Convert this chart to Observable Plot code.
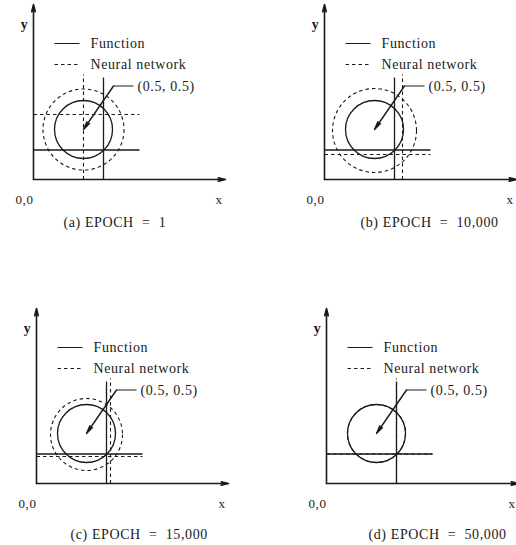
<!DOCTYPE html>
<html><head><meta charset="utf-8">
<script src="https://cdn.jsdelivr.net/npm/d3@7"></script>
<script src="https://cdn.jsdelivr.net/npm/@observablehq/plot@0.6"></script>
<style>
body{margin:0;background:#fff;width:516px;height:545px;overflow:hidden;position:relative;}
.panel{position:absolute;width:258px;}
.panel svg{max-width:none !important;letter-spacing:0.6px;}
</style></head><body>
<div id="root"></div>
<script>
// ---- data (data units: origin = 0,0) ----
const panelLetters = ["a", "b", "c", "d"];
const epochLabels = ["1", "10,000", "15,000", "50,000"];
// Function (solid)
const fnCircleCx = 0.5, fnCircleCy = 0.5, fnCircleR = 0.29;
const fnLineX = 0.70, fnLineY = 0.295;
// Neural network (dashed), one value per panel
const nnCircleCx = [0.50, 0.50, 0.50, 0.50];
const nnCircleCy = [0.50, 0.49, 0.49, 0.50];
const nnCircleR  = [0.405, 0.42, 0.36, 0.29];
const nnLineX    = [0.50, 0.78, 0.74, 0.70];
const nnLineY    = [0.65, 0.25, 0.27, 0.295];
const centerLabel = "(0.5, 0.5)";
const centerPoint = [0.5, 0.5];
const legendLabels = ["Function", "Neural network"];
const axisLabels = ["x", "y", "0,0"];

// ---- layout ----
const W = 258, H = 272;
const layout = [
  {left: -2,  top: -31, capX: 0.30, capY: -0.43},
  {left: 289, top: -31, capX: 0.36, capY: -0.43},
  {left: 1,   top: 273, capX: 0.34, capY: -0.51},
  {left: 291, top: 273, capX: 0.42, capY: -0.51}
];
const ink = "#1a1a1a";
const font = "Liberation Serif, Times New Roman, serif";

function panel(i) {
  const lineTop = 1.02, lineRight = 1.06;
  const solidSegs = [
    {x1: fnLineX, y1: 0, x2: fnLineX, y2: lineTop},
    {x1: 0, y1: fnLineY, x2: lineRight, y2: fnLineY}
  ];
  const dashSegs = [
    {x1: nnLineX[i], y1: 0, x2: nnLineX[i], y2: lineTop + 0.03},
    {x1: 0, y1: nnLineY[i], x2: lineRight, y2: nnLineY[i]}
  ];
  const circles = [
    {cx: fnCircleCx, cy: fnCircleCy, r: fnCircleR, kind: "fn"},
    {cx: nnCircleCx[i], cy: nnCircleCy[i], r: nnCircleR[i], kind: "nn"}
  ];
  const legend = [
    {x1: 0.21, x2: 0.46, y: 1.36, label: legendLabels[0], dash: null},
    {x1: 0.21, x2: 0.46, y: 1.15, label: legendLabels[1], dash: "3.5,3"}
  ];
  const leaderY = 0.935;
  const plot = Plot.plot({
    width: W, height: H,
    margin: 0,
    x: {domain: [-0.35, 2.23], axis: null},
    y: {domain: [-0.62, 2.10], axis: null},
    r: {type: "linear", domain: [0, 1], range: [0, 100]},
    style: {fontFamily: font, background: "white", overflow: "visible"},
    marks: [
      // axes with arrowheads
      Plot.arrow([{x1: 0, y1: 0, x2: 1.92, y2: 0}, {x1: 0, y1: 0, x2: 0, y2: 1.75}],
        {x1: "x1", y1: "y1", x2: "x2", y2: "y2", stroke: ink, strokeWidth: 1.6, headLength: 7, headAngle: 28}),
      // function lines and circle
      Plot.link(solidSegs, {x1: "x1", y1: "y1", x2: "x2", y2: "y2", stroke: ink, strokeWidth: 1.3}),
      Plot.dot(circles.filter(d => d.kind === "fn"), {x: "cx", y: "cy", r: "r", stroke: ink, strokeWidth: 1.3, fill: "none"}),
      // neural network lines and circle
      Plot.link(dashSegs, {x1: "x1", y1: "y1", x2: "x2", y2: "y2", stroke: ink, strokeWidth: 1.1, strokeDasharray: "3.5,3"}),
      Plot.dot(circles.filter(d => d.kind === "nn"), {x: "cx", y: "cy", r: "r", stroke: ink, strokeWidth: 1.1, fill: "none", strokeDasharray: "3.5,3"}),
      // legend
      Plot.link(legend.filter(d => !d.dash), {x1: "x1", x2: "x2", y1: "y", y2: "y", stroke: ink, strokeWidth: 1}),
      Plot.link(legend.filter(d => d.dash), {x1: "x1", x2: "x2", y1: "y", y2: "y", stroke: ink, strokeWidth: 1, strokeDasharray: "3.5,3"}),
      Plot.text(legend, {x: 0.57, y: "y", text: "label", textAnchor: "start", fontSize: 14, fill: ink}),
      // leader to (0.5, 0.5)
      Plot.link([{x1: 1.0, x2: 0.80, y: leaderY}], {x1: "x1", x2: "x2", y1: "y", y2: "y", stroke: ink, strokeWidth: 1}),
      Plot.arrow([{x1: 0.80, y1: leaderY, x2: centerPoint[0], y2: centerPoint[1]}],
        {x1: "x1", y1: "y1", x2: "x2", y2: "y2", stroke: ink, strokeWidth: 1.4, headLength: 9, headAngle: 22}),
      Plot.text([centerLabel], {x: 1.04, y: leaderY - 0.01, text: d => d, textAnchor: "start", fontSize: 14, fill: ink}),
      // axis labels
      Plot.text([axisLabels[0]], {x: 1.855, y: -0.20, text: d => d, fontSize: 13, fill: ink}),
      Plot.text([axisLabels[1]], {x: -0.09, y: 1.55, text: d => d, fontSize: 14, fontWeight: "bold", fill: ink}),
      Plot.text([axisLabels[2]], {x: -0.09, y: -0.20, text: d => d, fontSize: 13, fill: ink}),
      // caption
      Plot.text([`(${panelLetters[i]}) EPOCH  =  ${epochLabels[i]}`], {x: layout[i].capX, y: layout[i].capY, text: d => d, textAnchor: "start", fontSize: 14, fill: ink})
    ]
  });
  const div = document.createElement("div");
  div.className = "panel";
  div.style.left = layout[i].left + "px";
  div.style.top = layout[i].top + "px";
  div.appendChild(plot);
  document.getElementById("root").appendChild(div);
}
panelLetters.forEach((_, i) => panel(i));
</script>
</body></html>
